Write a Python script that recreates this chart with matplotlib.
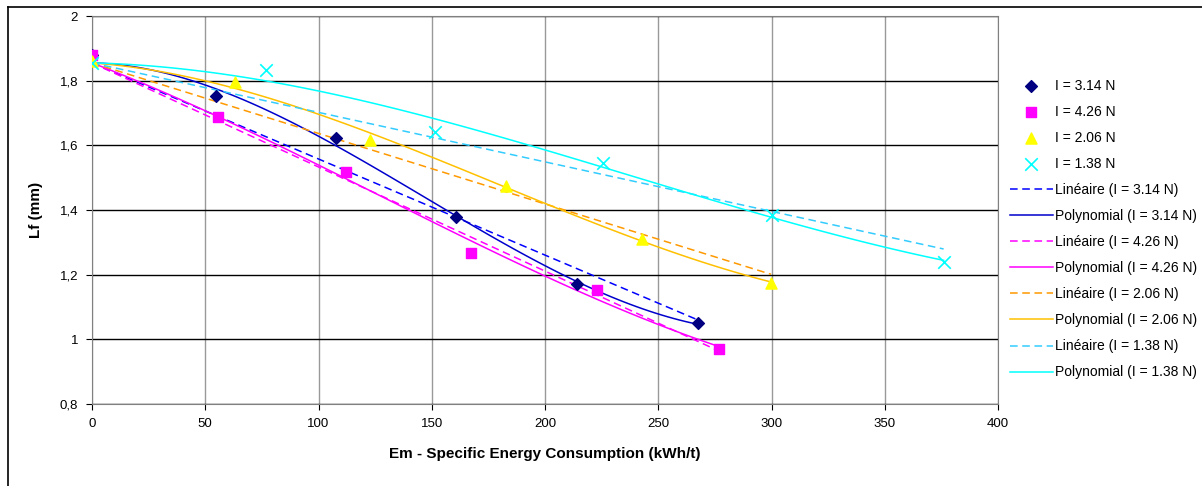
import numpy as np
import matplotlib
matplotlib.use('Agg')
import matplotlib.pyplot as plt
from matplotlib.ticker import FuncFormatter
from matplotlib.lines import Line2D

plt.rcParams['font.family'] = ['Liberation Sans', 'DejaVu Sans']

# données
labels = ['I = 3.14 N', 'I = 4.26 N', 'I = 2.06 N', 'I = 1.38 N']
em_314 = [0, 54.7, 107.7, 160.7, 214, 267.5]
lf_314 = [1.88, 1.753, 1.623, 1.378, 1.171, 1.05]
em_426 = [0, 55.6, 112, 167.3, 223, 276.8]
lf_426 = [1.88, 1.688, 1.517, 1.267, 1.152, 0.97]
em_206 = [0, 63, 122.7, 183, 243, 299.8]
lf_206 = [1.86, 1.796, 1.616, 1.474, 1.31, 1.174]
em_138 = [0, 77, 151.4, 225.6, 300, 376]
lf_138 = [1.855, 1.833, 1.641, 1.545, 1.385, 1.24]
intercept = 1.855  # ordonnée à l'origine imposée des courbes de tendance

xs = [em_314, em_426, em_206, em_138]
ys = [lf_314, lf_426, lf_206, lf_138]
markers = ['D', 's', '^', 'x']
msizes = [6, 7, 8, 9]
mcolors = ['#000080', '#FF00FF', '#FFFF00', '#00FFFF']
lin_colors = ['#0000FF', '#FF00FF', '#FF9900', '#33CCFF']
poly_colors = ['#0000CC', '#FF00FF', '#FFC000', '#00FFFF']

fig = plt.figure(figsize=(12.02, 4.86), dpi=100)
ax = fig.add_axes([92 / 1202, 1 - 404 / 486, 906 / 1202, 388 / 486])

# lignes de tendance (linéaire et polynomiale d'ordre 3), intercept fixé
handles_lin = []
for x, y, lc, pc, lab in zip(xs, ys, lin_colors, poly_colors, labels):
    x = np.array(x)
    y = np.array(y) - intercept
    xx = np.linspace(0, x.max(), 100)
    a1 = np.linalg.lstsq(x[:, None], y, rcond=None)[0]
    a3 = np.linalg.lstsq(np.column_stack([x, x ** 2, x ** 3]), y, rcond=None)[0]
    l1, = ax.plot(xx, intercept + a1[0] * xx, color=lc, ls=(0, (5, 3)), lw=1.1)
    l2, = ax.plot(xx, intercept + a3[0] * xx + a3[1] * xx ** 2 + a3[2] * xx ** 3, color=pc, lw=1.1)
    handles_lin += [(l1, 'Linéaire (%s)' % lab), (l2, 'Polynomial (%s)' % lab)]

handles_pts = []
for x, y, m, ms, c, lab in zip(xs, ys, markers, msizes, mcolors, labels):
    if m == 'x':
        h = ax.scatter(x, y, marker='x', s=ms ** 2, color=c, linewidths=1.2, zorder=5)
    else:
        h = ax.scatter(x, y, marker=m, s=ms ** 2, color=c, edgecolors=c, zorder=5)
    handles_pts.append((h, lab))

ax.set_xlim(0, 400)
ax.set_ylim(0.8, 2)
ax.set_xticks(np.arange(0, 401, 50))
ax.set_yticks(np.arange(0.8, 2.01, 0.2))
ax.yaxis.set_major_formatter(FuncFormatter(lambda v, p: ('%g' % round(v, 1)).replace('.', ',')))
ax.grid(axis='y', color='black', lw=1)
ax.grid(axis='x', color='#999999', lw=1)
ax.set_axisbelow(True)
for s in ax.spines.values():
    s.set_color('#808080')
ax.tick_params(labelsize=9.5, length=4, color='black', pad=6)
ax.set_xlabel('Em - Specific Energy Consumption (kWh/t)', fontsize=11, fontweight='bold', labelpad=12)
ax.set_ylabel('Lf (mm)', fontsize=11, fontweight='bold', labelpad=12)

hs = [h for h, l in handles_pts + handles_lin]
ls = [l for h, l in handles_pts + handles_lin]
fig.legend(hs, ls, loc='upper left', bbox_to_anchor=(1004 / 1202, 1 - 73 / 486),
           frameon=False, fontsize=10, handlelength=3.1, labelspacing=0.87,
           handletextpad=0.2, borderaxespad=0)

# cadre du graphique
fig.add_artist(Line2D([8 / 1202, 8 / 1202], [0, 1 - 7 / 486], color='black', lw=1.2))
fig.add_artist(Line2D([8 / 1202, 1], [1 - 7 / 486, 1 - 7 / 486], color='black', lw=1.2))

fig.savefig('out.png', dpi=100)
